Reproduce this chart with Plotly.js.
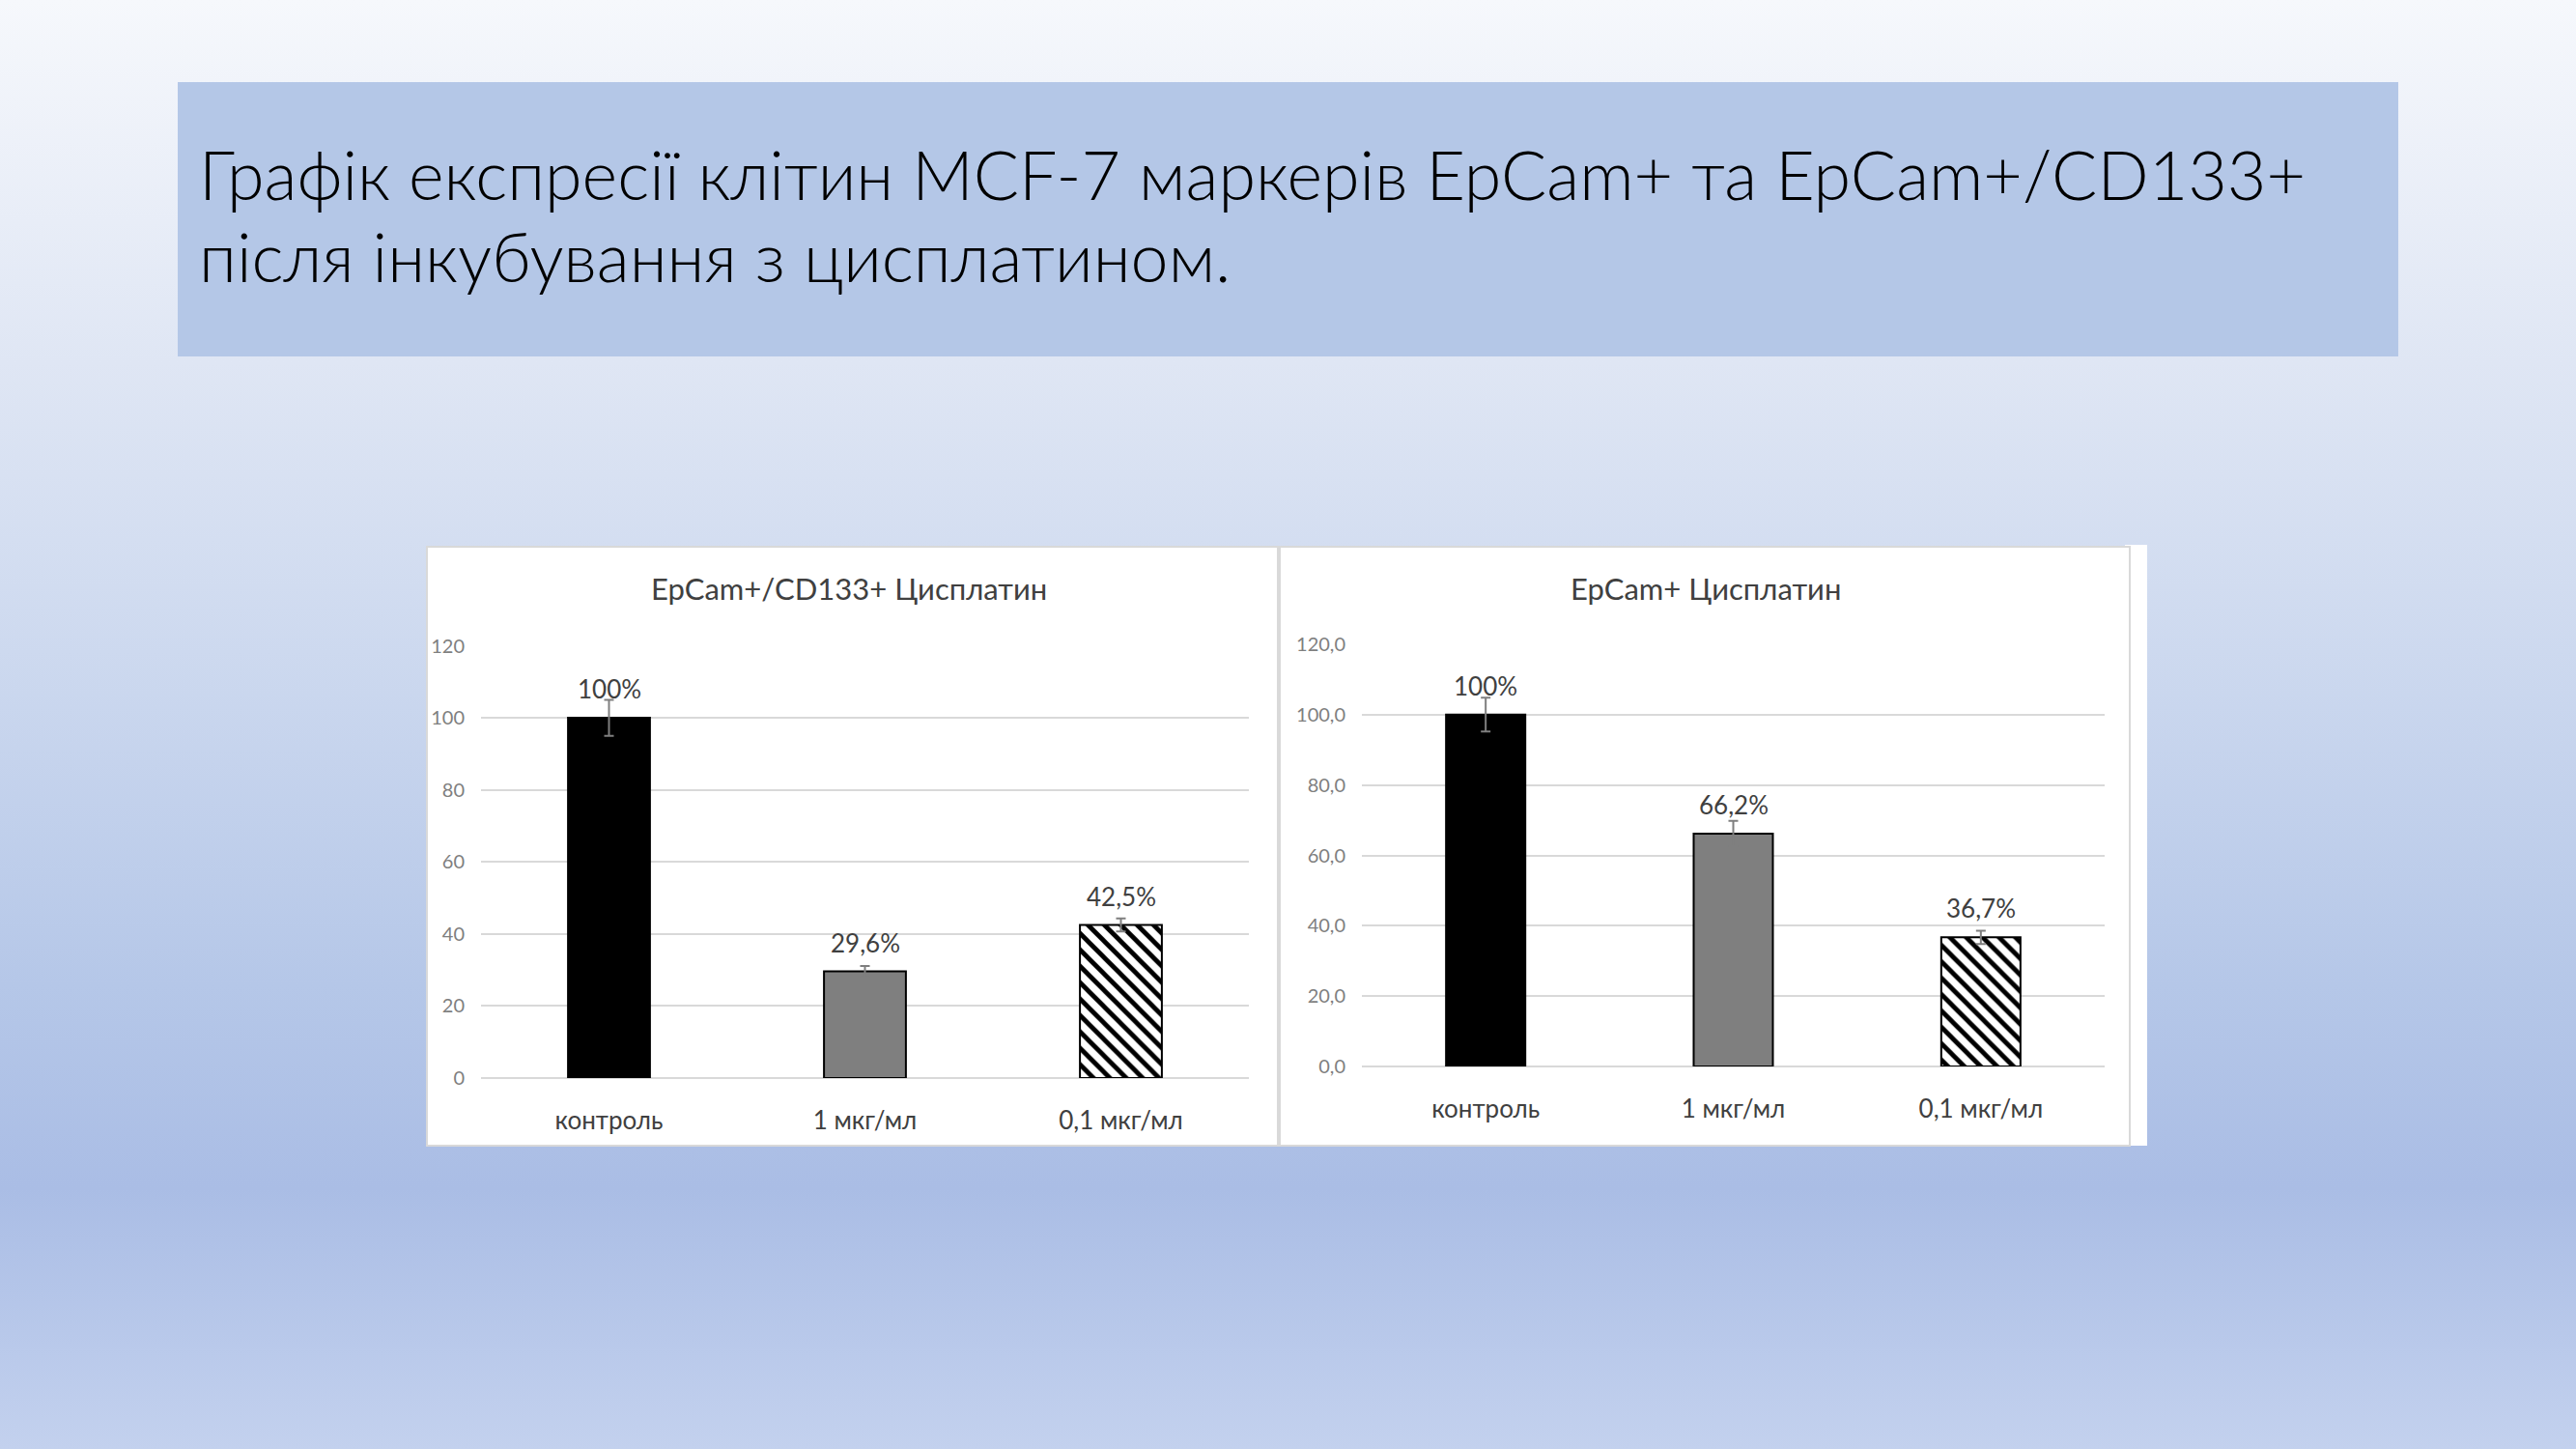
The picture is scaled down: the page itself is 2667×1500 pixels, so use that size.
<!DOCTYPE html>
<html>
<head>
<meta charset="utf-8">
<script src="https://cdn.plot.ly/plotly-3.0.1.min.js"></script>
<style>
  html, body { margin: 0; padding: 0; }
  body {
    width: 2667px; height: 1500px; overflow: hidden;
    background: linear-gradient(180deg, #f6f8fc 0%, #dfe6f4 25%, #cdd9ef 45%, #b5c7e8 68%, #aabde5 82%, #c3d1ee 100%);
  }
  #chart { width: 2667px; height: 1500px; }
</style>
</head>
<body>
<div id="chart"></div>
<script>
const categories = ['контроль', '1 мкг/мл', '0,1 мкг/мл'];

// EpCam+/CD133+ (left chart)
const cd133Values = [100, 29.6, 42.5];
const cd133Errors = [5, 1.5, 1.8];
const cd133Labels = ['100%', '29,6%', '42,5%'];

// EpCam+ (right chart)
const epcamValues = [100, 66.2, 36.7];
const epcamErrors = [4.8, 3.6, 1.9];
const epcamLabels = ['100%', '66,2%', '36,7%'];

const yTicks = [0, 20, 40, 60, 80, 100, 120];

const barColors = ['#000000', '#7f7f7f'];

const W = 2667, H = 1500;
const px = v => v / W;
const py = v => 1 - v / H;

// solid bars: first two categories
function solidTrace(values, errors, xa, ya) {
  return {
    type: 'bar',
    x: categories.slice(0, 2),
    y: values.slice(0, 2),
    xaxis: xa, yaxis: ya,
    width: 0.32,
    marker: { color: barColors, line: { color: '#000000', width: 2 } },
    error_y: { type: 'data', array: errors.slice(0, 2), visible: true, color: '#7f7f7f', thickness: 2, width: 5 },
    hoverinfo: 'skip', showlegend: false
  };
}

// hatched bar: last category
function hatchTrace(values, errors, xa, ya) {
  return {
    type: 'bar',
    x: categories.slice(2),
    y: values.slice(2),
    xaxis: xa, yaxis: ya,
    width: 0.32,
    marker: {
      color: '#ffffff',
      line: { color: '#000000', width: 2 },
      pattern: { shape: '\\', fillmode: 'replace', bgcolor: '#ffffff', fgcolor: '#000000', fgopacity: 1, size: 12, solidity: 0.4 }
    },
    error_y: { type: 'data', array: errors.slice(2), visible: true, color: '#7f7f7f', thickness: 2, width: 5 },
    hoverinfo: 'skip', showlegend: false
  };
}

const data = [
  solidTrace(cd133Values, cd133Errors, 'x', 'y'),
  hatchTrace(cd133Values, cd133Errors, 'x', 'y'),
  solidTrace(epcamValues, epcamErrors, 'x2', 'y2'),
  hatchTrace(epcamValues, epcamErrors, 'x2', 'y2')
];

const chartFont = 'Lato, "Open Sans", sans-serif';

function valueLabels(values, labels, xr, yr) {
  return values.map((v, i) => ({
    xref: xr, yref: yr, x: categories[i], y: v, yshift: 30,
    text: labels[i], showarrow: false,
    font: { family: chartFont, size: 26, color: '#404040' }
  }));
}

const xCommon = {
  type: 'category',
  categoryorder: 'array',
  categoryarray: categories,
  range: [-0.5, 2.5],
  showgrid: false,
  showline: false,
  ticks: '',
  ticklabelstandoff: 26,
  tickfont: { family: chartFont, size: 26, color: '#404040' },
  fixedrange: true
};

const yCommon = {
  range: [0, 120],
  tickvals: yTicks,
  showgrid: true,
  gridcolor: '#d9d9d9',
  gridwidth: 2,
  zeroline: true,
  zerolinecolor: '#d9d9d9',
  zerolinewidth: 2,
  showline: false,
  ticks: '',
  ticklabelstandoff: 16,
  tickfont: { family: chartFont, size: 20, color: '#7f7f7f' },
  fixedrange: true
};

const layout = {
  width: W,
  height: H,
  margin: { l: 0, r: 0, t: 0, b: 0 },
  paper_bgcolor: 'rgba(0,0,0,0)',
  plot_bgcolor: 'rgba(0,0,0,0)',
  barmode: 'overlay',
  separators: ', ',
  xaxis: Object.assign({}, xCommon, { domain: [px(498), px(1293)], anchor: 'y' }),
  yaxis: Object.assign({}, yCommon, { domain: [py(1116), py(668.5)], anchor: 'x', tickformat: 'd' }),
  xaxis2: Object.assign({}, xCommon, { domain: [px(1410), px(2179)], anchor: 'y2' }),
  yaxis2: Object.assign({}, yCommon, { domain: [py(1104), py(667)], anchor: 'x2', tickformat: '.1f' }),
  shapes: [
    { type: 'rect', xref: 'paper', yref: 'paper', layer: 'below',
      x0: px(184), x1: px(2483), y0: py(85), y1: py(369),
      fillcolor: '#b4c7e7', line: { width: 0 } },
    { type: 'rect', xref: 'paper', yref: 'paper', layer: 'below',
      x0: px(442), x1: px(1323), y0: py(566), y1: py(1186),
      fillcolor: '#ffffff', line: { color: '#d9d9d9', width: 2 } },
    { type: 'rect', xref: 'paper', yref: 'paper', layer: 'below',
      x0: px(2200), x1: px(2223), y0: py(564), y1: py(1186),
      fillcolor: '#ffffff', line: { width: 0 } },
    { type: 'rect', xref: 'paper', yref: 'paper', layer: 'below',
      x0: px(1325), x1: px(2205), y0: py(566), y1: py(1186),
      fillcolor: '#ffffff', line: { color: '#d9d9d9', width: 2 } }
  ],
  annotations: [
    { xref: 'paper', yref: 'paper', x: px(204), y: py(180), xanchor: 'left', yanchor: 'middle',
      text: 'Графік експресії клітин MCF-7 маркерів EpCam+ та EpCam+/CD133+', showarrow: false,
      font: { family: 'Lato, "Open Sans", sans-serif', weight: 300, size: 70, color: '#000000' } },
    { xref: 'paper', yref: 'paper', x: px(204), y: py(265), xanchor: 'left', yanchor: 'middle',
      text: 'після інкубування з цисплатином.', showarrow: false,
      font: { family: 'Lato, "Open Sans", sans-serif', weight: 300, size: 70, color: '#000000' } },
    { xref: 'paper', yref: 'paper', x: px(879), y: py(609), xanchor: 'center', yanchor: 'middle',
      text: 'EpCam+/CD133+ Цисплатин', showarrow: false,
      font: { family: chartFont, size: 31, color: '#404040' } },
    { xref: 'paper', yref: 'paper', x: px(1766), y: py(609), xanchor: 'center', yanchor: 'middle',
      text: 'EpCam+ Цисплатин', showarrow: false,
      font: { family: chartFont, size: 31, color: '#404040' } }
  ].concat(valueLabels(cd133Values, cd133Labels, 'x', 'y'))
   .concat(valueLabels(epcamValues, epcamLabels, 'x2', 'y2'))
};

Plotly.newPlot('chart', data, layout, { displayModeBar: false, staticPlot: true });
</script>
</body>
</html>
